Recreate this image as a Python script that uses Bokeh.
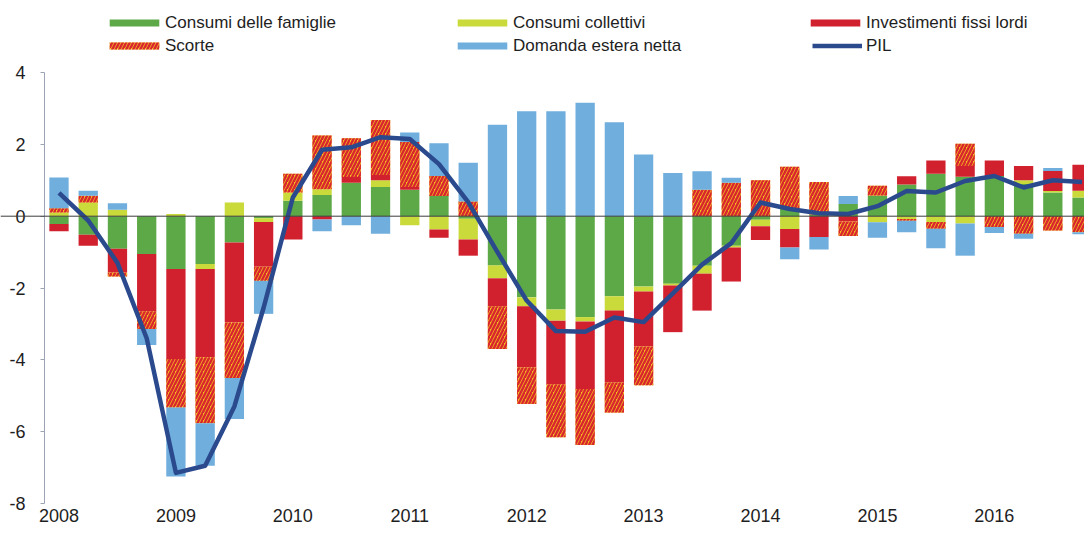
from bokeh.plotting import figure
from bokeh.models import Range1d, FixedTicker, Legend, LegendItem, Span
from bokeh.embed import file_html
from bokeh.resources import INLINE

# ---------------- data (quarterly, 2008Q1 - 2016Q4) ----------------
years = ["2008", "2009", "2010", "2011", "2012", "2013", "2014", "2015", "2016"]
quarters = [f"{y}T{q}" for y in years for q in range(1, 5)]

famiglie = [-0.22, -0.52, -0.91, -1.05, -1.47, -1.33, -0.73, -0.06,
            0.43, 0.59, 0.93, 0.81, 0.74, 0.56, -0.07, -1.37,
            -2.26, -2.60, -2.81, -2.23, -1.96, -1.88, -1.38, -0.82,
            -0.10, 0.20, 0.05, 0.34, 0.58, 0.88, 1.18, 1.10,
            1.12, 0.90, 0.66, 0.52]
collettivi = [0.10, 0.38, 0.18, 0.00, 0.06, -0.14, 0.38, -0.10,
              0.23, 0.16, 0.00, 0.19, -0.25, -0.37, -0.58, -0.36,
              -0.25, -0.31, -0.12, -0.40, -0.14, -0.05, -0.22, -0.05,
              -0.18, -0.36, 0.00, 0.00, -0.17, -0.08, -0.16, -0.20,
              0.00, 0.10, 0.04, 0.19]
investimenti = [-0.20, -0.30, -0.66, -1.60, -2.51, -2.46, -2.23, -1.25,
                -0.65, -0.09, 0.16, 0.15, 0.07, -0.23, -0.45, -0.78,
                -1.70, -1.77, -1.88, -2.00, -1.53, -1.30, -1.03, -0.95,
                -0.38, -0.51, -0.58, -0.15, 0.00, 0.23, 0.37, 0.30,
                0.43, 0.40, 0.56, 0.72]
scorte = [0.12, 0.19, -0.11, -0.49, -1.35, -1.84, -1.55, -0.39,
          0.52, 1.50, 1.08, 1.53, 1.26, 0.56, 0.41, -1.19,
          -1.02, -1.48, -1.56, -0.84, -1.08, 0.00, 0.74, 0.93,
          1.00, 1.18, 0.90, -0.40, 0.27, -0.05, -0.19, 0.62,
          -0.30, -0.49, -0.40, -0.45]
estera = [0.86, 0.14, 0.18, -0.45, -1.92, -1.18, -1.14, -0.92,
          0.00, -0.33, -0.25, -0.49, 0.26, 0.91, 1.08, 2.55,
          2.92, 2.92, 3.16, 2.62, 1.72, 1.20, 0.51, 0.14,
          0.00, -0.33, -0.35, 0.22, -0.43, -0.32, -0.54, -0.90,
          -0.17, -0.14, 0.08, -0.05]
pil = [0.65, -0.12, -1.30, -3.40, -7.15, -6.95, -5.30, -2.55,
       0.52, 1.85, 1.92, 2.20, 2.15, 1.45, 0.39, -1.00,
       -2.35, -3.20, -3.22, -2.82, -2.95, -2.15, -1.35, -0.75,
       0.38, 0.20, 0.08, 0.06, 0.28, 0.70, 0.66, 0.98,
       1.12, 0.80, 1.00, 0.95]
y_ticks = [-8, -6, -4, -2, 0, 2, 4]
y_tick_labels = ["-8", "-6", "-4", "-2", "0", "2", "4"]

# ---------------- styling / layout ----------------
FONT = "Liberation Sans"
GREEN = "#5DA947"
LIME = "#C9DA3A"
RED = "#D2212E"
YELLOW = "#F7C21E"
STRIPE = "#D8282E"
BLUE = "#6FAEDD"
NAVY = "#2B4A8E"
TXT = "#1E1E1E"

W, H = 1084, 532
X0_PX, DX_PX = 58.5, 29.23      # pixel of first quarter, pixels per quarter
Y0_PX, DY_PX = 215.7, 35.9      # pixel of zero, pixels per unit
AXIS_PX = 44                    # pixel column of the value axis

n = len(quarters)
idx = list(range(n))

p = figure(width=W, height=H, output_backend="svg", toolbar_location=None,
           x_range=Range1d(-X0_PX / DX_PX, (W - X0_PX) / DX_PX),
           y_range=Range1d(-(H - Y0_PX) / DY_PX, Y0_PX / DY_PX),
           min_border_left=0, min_border_right=0, min_border_top=0, min_border_bottom=0)
p.outline_line_color = None
p.grid.visible = False
p.background_fill_color = "white"
p.border_fill_color = "white"

# stacked bars, positives and negatives stacked separately
series = [
    ("Consumi delle famiglie", famiglie, dict(fill_color=GREEN)),
    ("Consumi collettivi", collettivi, dict(fill_color=LIME)),
    ("Investimenti fissi lordi", investimenti, dict(fill_color=RED)),
    ("Scorte", scorte, dict(fill_color=YELLOW, hatch_pattern="/", hatch_color=STRIPE,
                            hatch_weight=2.5, hatch_scale=7)),
    ("Domanda estera netta", estera, dict(fill_color=BLUE)),
]
pos_base = [0.0] * n
neg_base = [0.0] * n
renderers = {}
for name, vals, style in series:
    bottoms, tops = [], []
    for i, v in enumerate(vals):
        if v >= 0:
            b = pos_base[i]
            pos_base[i] = b + v
        else:
            b = neg_base[i]
            neg_base[i] = b + v
        bottoms.append(b)
        tops.append(b + v)
    renderers[name] = p.vbar(x=idx, bottom=bottoms, top=tops, width=0.66,
                             line_color=None, **style)

x_axis_pos = (AXIS_PX - X0_PX) / DX_PX
p.add_layout(Span(location=0, dimension="width", line_color="#3C3C3C", line_width=1))

r_pil = p.line(idx, pil, line_color=NAVY, line_width=4.5, line_join="round")

# axes
yax = p.yaxis[0]
yax.fixed_location = x_axis_pos
yax.ticker = FixedTicker(ticks=y_ticks)
yax.major_label_overrides = dict(zip(y_ticks, y_tick_labels))
yax.bounds = (min(y_ticks), max(y_ticks))
yax.axis_line_color = "#9CA4B4"
yax.major_tick_line_color = "#9CA4B4"
yax.major_tick_out = 4
yax.major_tick_in = 0
yax.minor_tick_line_color = None
yax.major_label_standoff = 15
yax.major_label_text_font = FONT
yax.major_label_text_font_size = "18px"
yax.major_label_text_color = TXT

xax = p.xaxis[0]
xax.ticker = FixedTicker(ticks=[4 * k for k in range(len(years))])
xax.major_label_overrides = {4 * k: y for k, y in enumerate(years)}
xax.fixed_location = min(y_ticks)
xax.axis_line_color = None
xax.major_tick_line_color = None
xax.minor_tick_line_color = None
xax.major_tick_out = 0
xax.major_label_standoff = 6
xax.major_label_text_font = FONT
xax.major_label_text_font_size = "18px"
xax.major_label_text_color = TXT

# legends (three columns)
def make_legend(items, loc, gw):
    lg = Legend(items=items, location=loc, orientation="vertical",
                border_line_color=None, background_fill_alpha=0,
                padding=0, margin=0, spacing=2, glyph_width=gw, glyph_height=9,
                label_standoff=0, label_height=21,
                label_text_font=FONT, label_text_font_size="17px",
                label_text_color=TXT)
    p.add_layout(lg, "center")
    return lg

make_legend([LegendItem(label="Consumi delle famiglie", renderers=[renderers["Consumi delle famiglie"]]),
             LegendItem(label="Scorte", renderers=[renderers["Scorte"]])], (103, 476), 62)
make_legend([LegendItem(label="Consumi collettivi", renderers=[renderers["Consumi collettivi"]]),
             LegendItem(label="Domanda estera netta", renderers=[renderers["Domanda estera netta"]])], (451, 476), 62)
make_legend([LegendItem(label="Investimenti fissi lordi", renderers=[renderers["Investimenti fissi lordi"]])], (804, 499), 62)
pil_leg = make_legend([LegendItem(label="PIL", renderers=[r_pil])], (812, 476), 50)
pil_leg.label_standoff = 4

open("out.html", "w").write(file_html(p, INLINE))
